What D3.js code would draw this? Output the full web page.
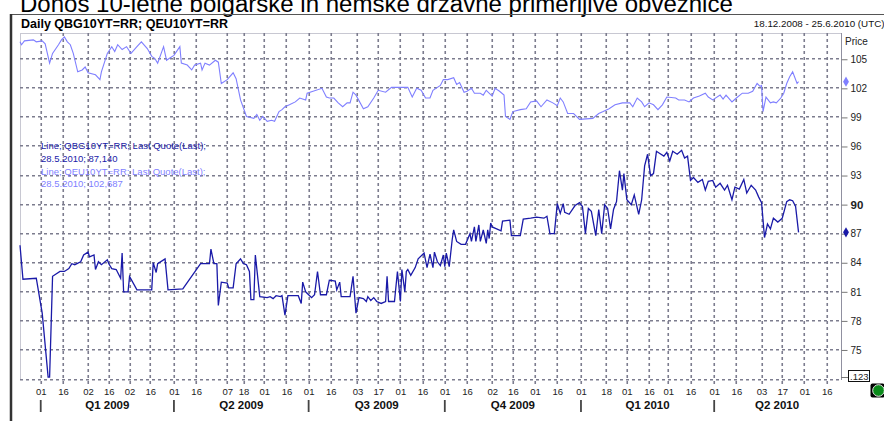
<!DOCTYPE html>
<html><head><meta charset="utf-8">
<script src="https://cdn.jsdelivr.net/npm/d3@7/dist/d3.min.js"></script>
<style>
html,body{margin:0;padding:0;background:#fff;overflow:hidden}
svg{display:block;font-family:"Liberation Sans",Arial,sans-serif}
</style></head><body>
<svg id="c" width="884" height="421"></svg>
<script>
// ---------- DATA ----------
const titleText = "Donos 10-letne bolgarske in nemške državne primerljive obveznice";
const headerText = "Daily QBG10YT=RR; QEU10YT=RR";
const rangeText = "18.12.2008 - 25.6.2010 (UTC)";
const startDate = "2008-12-18";
const endDate = "2010-06-25";
const yTicks = [75, 78, 81, 84, 87, 90, 93, 96, 99, 102, 105];
const tickDates = ["2009-01-01","2009-01-16","2009-02-02","2009-02-16","2009-03-02","2009-03-16",
  "2009-04-01","2009-04-16","2009-05-07","2009-05-18","2009-06-01","2009-06-16",
  "2009-07-01","2009-07-16","2009-08-03","2009-08-17","2009-09-01","2009-09-16",
  "2009-10-01","2009-10-16","2009-11-02","2009-11-16","2009-12-01","2009-12-16",
  "2010-01-01","2010-01-18","2010-02-01","2010-02-16","2010-03-01","2010-03-16",
  "2010-04-01","2010-04-16","2010-05-03","2010-05-17","2010-06-01","2010-06-16"];
const tickLabels = ["01","16","02","16","02","16","01","16","07","18","01","16",
  "01","16","03","17","01","16","01","16","02","16","01","16",
  "01","18","01","16","01","16","01","16","03","17","01","16"];
const quarterStarts = ["2009-01-01","2009-04-01","2009-07-01","2009-10-01","2010-01-01","2010-04-01"];
const quarterLabels = ["Q1 2009","Q2 2009","Q3 2009","Q4 2009","Q1 2010","Q2 2010"];
const legendLines = ["Line; QBG10YT=RR; Last Quote(Last);","28.5.2010; 87,140",
  "Line; QEU10YT=RR; Last Quote(Last);","28.5.2010; 102,687"];
const lastQBG = 87.14, lastQEU = 102.687;
// series: [days since 18.12.2008, price]
const qeuSeries = [[0,106.8],[1,106.5],[3,106.9],[9,107.0],[11,106.8],[15,106.9],[17,106.6],[20,104.6],
 [22,105.6],[26,106.5],[28,107.0],[30,107.3],[32,106.8],[34,106.5],[36,105.6],[39,103.7],[42,103.9],
 [44,104.2],[46,103.6],[51,103.4],[54,102.9],[55,103.7],[59,105.6],[62,106.3],[64,105.8],[66,106.5],
 [69,106.0],[72,106.3],[75,105.6],[79,106.3],[82,106.8],[86,106.1],[89,105.3],[91,105.1],[93,104.6],
 [97,106.3],[99,104.9],[101,105.1],[104,105.4],[108,106.3],[109,104.6],[113,104.4],[116,103.9],
 [118,104.4],[122,104.6],[123,103.9],[125,104.6],[128,104.4],[132,104.9],[134,104.7],[136,102.5],
 [140,102.9],[144,103.6],[146,103.0],[149,100.8],[153,99.1],[158,98.9],[160,99.3],[162,98.7],
 [164,99.1],[167,98.6],[170,98.7],[172,98.6],[175,99.6],[177,99.8],[179,100.1],[182,100.3],
 [186,100.6],[189,101.0],[193,100.8],[194,101.5],[198,101.7],[204,102.0],[207,101.1],[209,101.0],
 [212,101.0],[215,100.5],[218,100.1],[221,100.5],[223,100.5],[225,101.6],[227,101.3],[232,99.9],
 [235,100.1],[239,101.0],[242,101.8],[247,101.6],[251,102.1],[257,102.1],[262,102.1],[265,101.1],
 [268,102.0],[271,101.8],[274,101.0],[277,101.0],[279,101.8],[284,102.3],[286,102.9],[289,102.9],
 [293,103.1],[295,102.4],[297,102.6],[300,101.6],[302,101.7],[305,102.0],[307,101.5],[311,101.5],
 [313,101.3],[315,101.8],[319,101.2],[321,102.0],[324,101.7],[327,101.3],[328,99.1],[331,98.8],
 [333,99.6],[338,99.8],[342,99.9],[345,100.6],[349,100.7],[352,100.1],[356,100.8],[360,100.5],
 [363,100.2],[365,101.0],[367,100.6],[370,99.4],[374,99.4],[378,98.8],[387,98.9],[391,99.4],
 [394,99.6],[398,99.9],[402,100.3],[407,100.5],[412,100.5],[414,100.1],[417,101.0],[420,100.6],
 [422,100.1],[425,100.5],[428,100.3],[431,99.8],[434,100.3],[437,101.1],[443,101.0],[445,100.8],
 [449,100.8],[452,100.6],[455,101.0],[459,101.2],[463,101.5],[465,101.1],[468,100.8],[473,101.3],
 [475,100.9],[477,101.3],[481,100.6],[484,101.0],[488,101.5],[492,101.5],[495,101.7],[498,102.5],
 [500,102.2],[501,102.3],[502,99.6],[504,101.1],[507,100.5],[509,100.6],[511,100.5],[514,101.0],
 [516,101.5],[518,102.5],[520,103.2],[522,103.7],[525,102.5],[526,102.687]];
const qbgSeries = [[0,85.8],[2,82.3],[11,82.4],[15,78.8],[19,72.2],[20,72.2],[22,82.6],[27,83.1],
 [30,83.1],[33,83.4],[35,83.9],[37,83.8],[41,84.1],[43,84.8],[46,85.1],[47,84.6],[50,84.8],[51,83.3],
 [53,84.1],[55,83.8],[59,84.3],[60,83.9],[62,83.4],[65,83.3],[68,82.4],[69,85.0],[70,81.0],[73,81.0],
 [74,82.6],[79,81.2],[89,81.2],[90,84.0],[92,83.0],[93,83.9],[98,84.4],[100,81.2],[110,81.3],
 [122,83.9],[128,83.9],[129,85.4],[131,83.9],[133,83.9],[134,79.6],[136,82.0],[140,81.9],[141,81.4],
 [144,81.4],[146,83.9],[149,84.4],[151,83.9],[153,83.8],[155,83.1],[156,80.2],[158,80.2],[159,84.8],
 [162,80.5],[167,80.4],[169,80.5],[171,80.3],[173,80.6],[176,80.5],[177,80.6],[179,78.6],[181,80.6],
 [188,80.6],[190,79.8],[191,82.0],[193,81.0],[195,80.7],[197,80.4],[199,80.7],[201,83.1],[203,80.7],
 [207,80.7],[209,82.2],[213,82.1],[214,81.2],[216,82.0],[217,80.5],[223,80.5],[225,82.6],[226,80.7],
 [227,78.8],[229,80.4],[232,80.3],[234,80.0],[235,80.5],[237,80.1],[239,80.4],[241,80.0],[244,79.8],
 [247,80.0],[248,82.6],[249,80.0],[253,80.0],[255,83.1],[257,80.0],[258,83.3],[260,81.0],[261,83.1],
 [262,83.3],[264,82.7],[267,83.5],[269,84.4],[273,85.0],[275,83.5],[277,84.9],[279,83.5],[280,85.1],
 [282,84.1],[284,83.7],[286,84.8],[287,83.6],[288,85.0],[290,83.6],[292,86.4],[293,87.4],[295,86.2],
 [298,85.9],[301,85.9],[304,87.0],[305,86.2],[307,87.7],[308,86.2],[310,87.9],[311,86.2],[313,87.4],
 [315,86.0],[316,87.4],[317,86.5],[318,88.1],[319,87.7],[322,87.5],[325,87.3],[326,88.3],[331,88.4],
 [332,86.8],[338,86.8],[340,88.5],[345,88.6],[349,88.7],[354,88.6],[356,88.8],[358,87.0],[361,87.0],
 [363,90.1],[365,89.1],[367,90.1],[368,89.2],[371,89.0],[375,89.9],[378,90.2],[380,89.8],[382,87.0],
 [384,89.6],[386,89.3],[389,86.8],[391,89.5],[393,87.0],[395,90.0],[397,89.6],[399,87.5],[401,89.5],
 [403,90.3],[405,93.5],[407,91.5],[408,93.2],[410,90.5],[413,90.0],[415,91.0],[418,89.0],[420,90.5],
 [422,94.0],[424,95.2],[426,93.0],[428,93.2],[430,95.5],[432,95.3],[435,95.0],[437,95.4],[439,94.5],
 [441,95.5],[444,95.2],[447,95.6],[449,94.8],[451,95.0],[453,92.5],[455,92.8],[458,92.3],[461,92.6],
 [463,91.5],[465,92.4],[468,92.5],[470,91.8],[473,92.2],[476,91.5],[478,92.0],[481,90.5],[483,91.8],
 [486,91.6],[489,92.6],[491,91.2],[494,92.0],[497,91.5],[499,90.8],[501,90.2],[503,86.6],[505,88.0],
 [507,87.5],[509,88.6],[512,88.2],[515,88.6],[518,90.3],[520,90.5],[522,90.4],[524,89.8],[526,87.14]];

// ---------- CHART ----------
const svg = d3.select("#c");
const FONT = '"Liberation Sans",Arial,sans-serif';
const parse = d3.timeParse("%Y-%m-%d");
const t0 = parse(startDate), t1 = parse(endDate);
const P = {left: 20, right: 841, top: 33, bottom: 380};
const x = d3.scaleTime().domain([t0, t1]).range([P.left, 840]);
const y = d3.scaleLinear().domain([71.9, 107.71]).range([P.bottom, P.top]);
const dayToDate = d => d3.timeDay.offset(t0, d);
const GRID = "#7c7c8e";

// title
const title = svg.append("text").attr("x", 20).attr("y", 11.5)
  .attr("font-size", 20).attr("fill", "#000").text(titleText);
const tw = title.node().getComputedTextLength();
title.attr("font-size", 20 * 713 / tw);

// outer frame
svg.append("line").attr("x1", 11).attr("x2", 884).attr("y1", 14.5).attr("y2", 14.5)
  .attr("stroke", "#555").attr("stroke-width", 1);
svg.append("line").attr("x1", 11).attr("x2", 11).attr("y1", 14).attr("y2", 421)
  .attr("stroke", "#333").attr("stroke-width", 2.5);

svg.append("text").attr("x", 21).attr("y", 27.5).attr("font-size", 12.5).attr("font-weight", "bold")
  .attr("fill", "#000").text(headerText);
svg.append("text").attr("x", 884.5).attr("y", 26.5).attr("font-size", 9.8).attr("text-anchor", "end")
  .attr("fill", "#111").text(rangeText);

// plot frame (light)
svg.append("line").attr("x1", P.left).attr("x2", P.right).attr("y1", P.top + 0.5).attr("y2", P.top + 0.5)
  .attr("stroke", "#c8c8d2");
svg.append("line").attr("x1", P.left + 0.5).attr("x2", P.left + 0.5).attr("y1", P.top).attr("y2", P.bottom)
  .attr("stroke", "#c8c8d2");

// horizontal grid
const hg = svg.append("g");
hg.selectAll("line").data(yTicks.concat([71.9])).join("line")
  .attr("x1", P.left).attr("x2", P.right)
  .attr("y1", d => Math.round(y(d)) - 0.25).attr("y2", d => Math.round(y(d)) - 0.25)
  .attr("stroke", GRID).attr("stroke-width", 1.6).attr("stroke-dasharray", "3,3");

// vertical grid
const tDates = tickDates.map(parse);
const vg = svg.append("g");
vg.selectAll("line").data(tDates).join("line")
  .attr("x1", d => Math.round(x(d)) + 0.25).attr("x2", d => Math.round(x(d)) + 0.25)
  .attr("y1", P.top).attr("y2", 386)
  .attr("stroke", GRID).attr("stroke-width", 1.6).attr("stroke-dasharray", "3,3");

// right axis
const yAxis = d3.axisRight(y).tickValues(yTicks).tickSize(6).tickPadding(3);
const ya = svg.append("g").attr("transform", `translate(${P.right + 0.5},0)`).call(yAxis);
ya.select(".domain").attr("stroke", "#9090a0").attr("d", `M0,${P.top}V${P.bottom}`);
ya.selectAll(".tick line").attr("stroke", "#777");
ya.selectAll(".tick text").attr("font-family", FONT).attr("font-size", d => d === 90 ? 11.5 : 10)
  .attr("font-weight", d => d === 90 ? "bold" : "normal").attr("fill", "#222");
svg.append("text").attr("x", 845).attr("y", 45).attr("font-size", 10).attr("fill", "#222").text("Price");

// bottom axis
const xAxis = d3.axisBottom(x).tickValues(tDates).tickSize(0).tickPadding(0)
  .tickFormat((d, i) => tickLabels[i]);
const xa = svg.append("g").attr("transform", `translate(0,388)`).call(xAxis);
xa.select(".domain").remove();
xa.selectAll(".tick text").attr("font-family", FONT).attr("font-size", 9.5).attr("fill", "#222").attr("dy", "0.71em");

// quarters
const qDates = quarterStarts.map(parse);
svg.append("g").selectAll("line").data(qDates).join("line")
  .attr("x1", d => x(d)).attr("x2", d => x(d)).attr("y1", 400).attr("y2", 412)
  .attr("stroke", "#444").attr("stroke-width", 1.8);
svg.append("g").selectAll("text").data(qDates).join("text")
  .attr("x", d => {
    const e = d3.timeMonth.offset(d, 3);
    return (x(d) + x(e > t1 ? t1 : e)) / 2;
  })
  .attr("y", 408.5).attr("text-anchor", "middle").attr("font-size", 11.5).attr("font-weight", "bold")
  .attr("fill", "#111").text((d, i) => quarterLabels[i]);

// lines
const line = d3.line().x(d => x(dayToDate(d[0]))).y(d => y(d[1]));
svg.append("path").datum(qeuSeries).attr("d", line).attr("fill", "none")
  .attr("stroke", "#7f7fff").attr("stroke-width", 1.1);
svg.append("path").datum(qbgSeries).attr("d", line).attr("fill", "none")
  .attr("stroke", "#1a1aa8").attr("stroke-width", 1.3);

// legend
const legColors = ["#1a1aa8", "#1a1aa8", "#7f7fff", "#7f7fff"];
svg.append("g").selectAll("text").data(legendLines).join("text")
  .attr("x", 41).attr("y", (d, i) => 149 + i * 12.8)
  .attr("font-size", 9.5).attr("fill", (d, i) => legColors[i]).text(d => d);

// last value diamonds
const diamond = d3.symbol().type(d3.symbolDiamond).size(30);
svg.append("path").attr("d", diamond).attr("fill", "#7f7fff")
  .attr("transform", `translate(846,${y(lastQEU)})`);
svg.append("path").attr("d", diamond).attr("fill", "#1a1aa8")
  .attr("transform", `translate(846,${y(lastQBG)})`);

// cursor value box
svg.append("line").attr("x1", P.right).attr("x2", 848).attr("y1", 377.5).attr("y2", 377.5).attr("stroke", "#777");
svg.append("rect").attr("x", 848.5).attr("y", 370.5).attr("width", 21).attr("height", 11)
  .attr("fill", "#fff").attr("stroke", "#111");
svg.append("text").attr("x", 850).attr("y", 379.5).attr("font-size", 9.5).attr("fill", "#222").text(".123");

// status indicator
svg.append("rect").attr("x", 870.5).attr("y", 383.5).attr("width", 14).attr("height", 14).attr("rx", 2).attr("fill", "#000");
svg.append("circle").attr("cx", 878.5).attr("cy", 390.5).attr("r", 5.8).attr("fill", "#0a8a1a")
  .attr("stroke", "#e8e8e8").attr("stroke-width", 1);
</script>
</body></html>
